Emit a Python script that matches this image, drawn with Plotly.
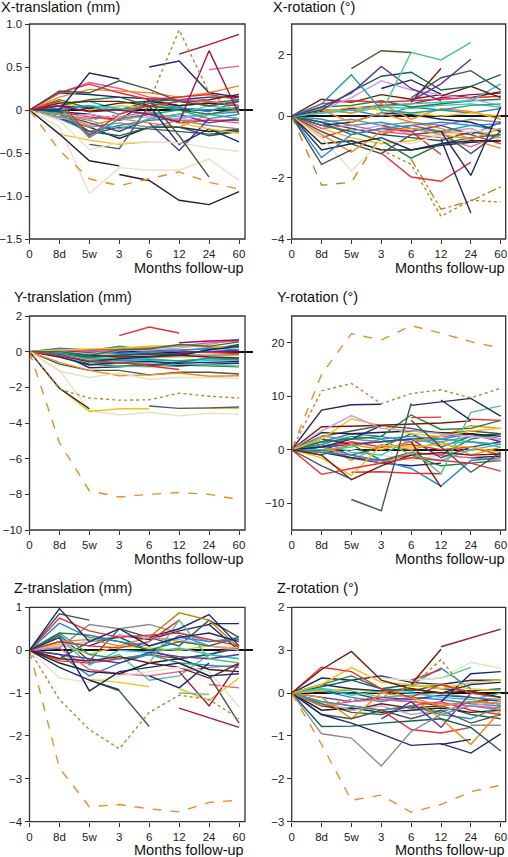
import plotly.graph_objects as go

# ---------------- categories ----------------
months = ["0", "8d", "5w", "3", "6", "12", "24", "60"]

palette = {
    "N": "#1f2a66", "G": "#41584c", "R": "#ec2d35", "O": "#f28a1a",
    "P": "#f2568f", "C": "#a3124b", "B": "#e6e1c2", "Y": "#f2c112",
    "T": "#17a2a0", "LG": "#4ec48b", "DG": "#1d7f3c", "PU": "#5a33a6",
    "LV": "#c4a0e2", "BL": "#2a82dc", "BR": "#761a08", "DT": "#145e5c",
    "CY": "#26c6d6", "GR": "#8c8c8c", "K": "#222222", "GD": "#b8862a",
    "OD": "#ee8a22", "SL": "#4e5d6a", "OL": "#4b5a28", "YB": "#b8860b",
}

# ---------------- X-translation (mm) ----------------
xt_values = [
    [0, -0.08, -0.12, -0.05, 0.1, 0.93, 0.2, -0.05],
    [0, -0.47, -0.8, -0.88, -0.8, -0.72, -0.84, -0.92],
    [None, None, None, None, None, 0.65, 0.76, 0.88],
    [0, 0.05, -0.02, 0.0, -0.05, -0.14, 0.69, -0.05],
    [None, None, None, None, None, None, 0.47, 0.51],
    [None, None, None, None, 0.5, 0.57, 0.2, 0.15],
    [0, 0.22, 0.2, 0.34, 0.24, 0.1, 0.05, 0.1],
    [None, None, None, None, 0.12, -0.3, -0.78, None],
    [0, -0.28, -0.59, -0.65, None, None, None, None],
    [None, None, None, -0.75, -0.82, -1.05, -1.1, -0.95],
    [0, -0.2, -0.97, -0.67, -0.7, -0.7, -0.57, -0.82],
    [0, -0.12, -0.46, -0.38, -0.37, -0.38, -0.44, -0.48],
    [None, -0.28, -0.35, -0.4, -0.37, None, None, None],
    [None, None, None, None, None, -0.15, -0.22, -0.27],
    [None, None, -0.4, -0.45, 0.05, None, None, None],
    [0, 0.0, 0.43, 0.36, None, None, None, None],
    [None, None, None, None, 0.05, -0.4, -0.22, -0.37],
    [None, None, None, None, -0.15, -0.47, -0.1, None],
    [0, 0.1, -0.3, -0.05, 0.05, 0.1, 0.05, 0.1],
    [0, 0.2, 0.3, 0.2, 0.12, 0.15, 0.18, 0.12],
    [0, 0.15, 0.24, 0.22, 0.2, 0.15, 0.2, 0.28],
    [0, 0.2, 0.32, 0.25, 0.15, 0.12, 0.1, 0.05],
    [0, 0.2, 0.18, 0.15, 0.13, 0.12, 0.15, 0.15],
    [0, 0.08, 0.1, 0.1, 0.05, 0.1, 0.12, 0.18],
    [0, 0.05, 0.12, 0.15, 0.05, 0.0, -0.05, 0.02],
    [0, 0.05, -0.32, -0.1, -0.05, 0.0, -0.1, -0.05],
    [0, -0.05, -0.12, -0.22, -0.1, -0.05, 0.05, 0.0],
    [0, 0.02, 0.05, -0.05, 0.08, 0.03, -0.02, 0.1],
    [0, -0.1, -0.05, -0.1, -0.08, -0.1, -0.05, 0.0],
    [0, 0.0, 0.05, 0.02, -0.05, -0.08, -0.05, -0.1],
    [0, -0.05, -0.15, -0.25, -0.1, -0.05, -0.15, -0.1],
    [0, -0.08, -0.2, -0.15, -0.2, -0.12, -0.18, -0.22],
    [0, -0.02, -0.25, -0.3, -0.2, -0.2, -0.3, -0.25],
    [0, -0.05, -0.18, -0.1, -0.15, -0.2, -0.05, -0.1],
    [0, -0.02, -0.08, -0.12, -0.05, -0.15, -0.12, -0.12],
    [0, 0.05, 0.02, 0.08, 0.1, 0.05, 0.08, 0.05],
    [0, -0.05, -0.28, -0.2, -0.22, -0.25, -0.28, -0.25],
    [0, 0.1, 0.0, 0.05, 0.02, 0.05, 0.1, 0.05],
    [0, -0.05, -0.1, -0.08, -0.02, -0.12, -0.12, -0.15],
    [0, -0.1, -0.25, -0.18, -0.12, -0.1, -0.05, -0.02],
    [0, 0.12, 0.02, 0.0, 0.1, 0.12, 0.08, 0.12],
    [0, -0.02, -0.05, -0.12, 0.12, 0.05, 0.1, 0.05],
    [0, 0.08, 0.1, 0.0, 0.05, 0.02, 0.0, 0.03],
    [0, -0.1, -0.2, -0.33, -0.2, -0.2, -0.25, -0.23],
]
xt_styles = ("GD.dot OD.dash C C P N G G K K B B Y Y SL N N PU R R O P N BR DG T "
             "LG BL LV CY PU GR DT O R K G Y P BL DG N T K").split()

# ---------------- X-rotation (°) ----------------
xr_values = [
    [None, None, 1.55, 2.13, 2.07, None, None, None],
    [None, None, None, 0.1, 2.08, 1.83, 2.4, None],
    [0, 0.3, 0.75, 1.62, 0.9, 0.5, None, None],
    [None, None, None, None, 0.5, 1.05, 1.85, None],
    [0, 0.4, 1.35, 0.2, 0.1, 0.2, 0.35, 0.4],
    [0, 0.2, 0.8, 1.3, 1.43, 0.85, 0.97, 1.35],
    [None, None, None, None, 0.6, 1.25, 1.48, 0.85],
    [None, None, None, 0.9, 1.18, 0.72, None, None],
    [None, None, None, None, 0.45, 1.55, None, None],
    [None, None, None, None, None, 0.65, 0.97, 0.6],
    [0, 0.1, 0.2, 0.3, 0.4, 0.45, 0.5, 1.05],
    [0, 0.2, 0.6, 1.15, 0.85, 0.7, 0.55, 0.35],
    [None, None, None, None, None, -0.75, -3.15, None],
    [None, None, None, None, None, -0.5, -1.93, 0.3],
    [None, None, None, -1.2, -1.98, -2.12, -1.5, None],
    [0, -2.25, -2.15, -0.6, None, None, None, None],
    [None, None, None, -1.1, -1.57, -3.26, -2.74, -2.8],
    [None, None, None, None, -1.4, -3.03, -2.76, -2.3],
    [0, -1.57, -1.1, None, None, None, None, None],
    [0, -1.35, -0.6, -0.4, -0.3, -0.2, -0.3, -0.25],
    [0, -1.1, -0.9, -0.7, -1.1, -0.9, -0.8, -0.8],
    [0, -0.6, -1.17, -0.5, -0.4, -0.6, -0.75, -0.4],
    [0, -0.7, -1.78, -0.8, -0.9, -0.6, -0.5, -0.4],
    [0, -0.5, -0.9, -1.22, -0.6, -0.5, -1.22, -0.5],
    [0, -0.3, -0.5, -0.8, -1.37, -0.9, -0.7, -0.6],
    [0, 0.2, -0.2, 0.1, -0.2, -0.4, -0.75, -1.05],
    [None, None, None, -0.3, -0.5, -1.25, None, None],
    [0, 0.4, 0.5, 0.45, 0.5, 0.55, 0.6, 0.65],
    [0, 0.55, 0.45, 0.7, 0.55, 0.7, 0.6, 0.8],
    [0, 0.3, 0.35, 0.5, 0.3, 0.4, 0.5, 0.55],
    [0, 0.1, 0.3, 0.2, 0.1, 0.0, 0.1, 0.0],
    [0, 0.25, 0.1, 0.4, -0.1, 0.25, 0.15, -0.1],
    [0, -0.4, -0.3, -0.5, -0.6, -0.7, -1.0, -0.6],
    [0, 0.2, 0.1, 0.3, 0.25, 0.35, 0.4, 0.3],
    [0, -0.9, -0.8, -1.1, -1.1, -0.95, -0.85, -0.8],
    [0, -0.3, -0.2, 0.1, 0.05, -0.1, -0.2, -0.5],
    [0, -0.1, -0.3, -0.2, -0.4, -0.5, -0.3, -0.45],
    [0, -0.2, -0.6, -0.4, -0.5, -0.3, -0.6, -0.2],
    [0, -0.3, -0.5, -0.3, -0.6, -0.5, -0.4, -0.7],
    [0, -0.2, -0.1, -0.3, -0.2, -0.3, -0.1, -0.2],
    [0, 0.1, 0.2, 0.0, 0.3, 0.2, 0.1, 0.25],
    [0, 0.15, 0.25, 0.35, 0.4, 0.6, 0.7, 0.75],
    [0, -0.2, -0.4, -0.6, -0.7, -0.8, -0.5, -0.7],
    [0, -0.4, -0.7, -0.9, -0.8, -0.6, -0.4, -0.8],
    [0, -0.7, -0.4, -0.6, -0.3, -0.5, -0.6, -0.9],
]
xr_styles = ("OL LG PU PU T DT G N BR BR CY LV N N R GD.dash GD.dot GD.dashdot G BL N O B G DG O R R BR DG "
             "Y O P LG K N T PU LV GR BL C DT Y R").split()

# ---------------- Y-translation (mm) ----------------
yt_values = [
    [0, -5.1, -7.8, -8.15, -8.0, -7.9, -8.0, -8.3],
    [0, -2.1, -2.6, -2.72, -2.7, -2.33, -2.5, -2.6],
    [0, -2.05, -3.2, None, None, None, None, None],
    [None, None, None, None, -3.05, -3.18, -3.15, -3.1],
    [None, -2.05, -3.35, -3.2, -3.2, None, None, None],
    [None, None, None, None, None, -3.18, -3.18, -3.18],
    [0, -1.05, -3.3, -3.55, -3.4, -3.6, -3.45, -3.5],
    [0, -1.1, -1.45, -1.2, -1.55, -1.45, -1.45, -1.5],
    [0, -0.6, -1.05, -1.35, -1.3, -1.2, -1.38, -1.35],
    [0, -0.7, -1.05, -1.05, -1.3, -1.15, -1.15, -1.25],
    [None, None, None, 0.9, 1.38, 1.05, None, None],
    [0, -0.2, -0.5, -0.6, -0.8, -1.0, None, None],
    [None, None, None, None, None, 0.5, 0.6, 0.65],
    [0, -0.3, -0.75, -0.6, -0.55, -0.65, -0.6, -0.55],
    [0, -0.2, -0.55, -0.4, -0.3, -0.2, 0.1, 0.3],
    [0, 0.0, -0.2, 0.1, 0.15, 0.4, 0.3, 0.55],
    [0, -0.1, -0.4, -0.5, -0.45, -0.5, -0.4, -0.45],
    [0, -0.3, -0.6, -0.8, -0.85, -0.7, -0.75, -0.8],
    [0, 0.1, 0.15, 0.2, 0.3, 0.35, 0.3, 0.2],
    [0, 0.1, 0.0, 0.1, 0.2, 0.3, 0.5, 0.6],
    [0, -0.1, -0.3, -0.2, -0.1, -0.2, 0.1, 0.4],
    [0, 0.0, -0.1, 0.05, 0.1, 0.2, 0.4, 0.7],
    [0, 0.2, 0.1, -0.1, 0.0, 0.05, 0.2, 0.1],
    [0, 0.15, 0.1, 0.15, 0.1, 0.0, -0.05, -0.1],
    [0, -0.15, -0.7, -0.8, -0.75, -0.6, -0.35, -0.4],
    [0, -0.05, -0.3, -0.45, -0.4, -0.55, -0.5, -0.45],
    [0, -0.05, -0.2, -0.3, -0.25, -0.2, -0.3, -0.35],
    [0, -0.1, -0.25, -0.2, -0.15, -0.1, 0.0, 0.05],
    [0, -0.05, -0.15, -0.1, -0.05, -0.15, -0.2, -0.15],
    [0, 0.05, 0.1, 0.2, 0.25, 0.35, 0.25, 0.3],
    [0, 0.05, -0.05, 0.0, -0.1, -0.05, 0.0, 0.05],
    [0, -0.1, -0.9, -0.85, -0.75, -0.8, -0.7, -0.65],
    [0, -0.2, -0.6, -0.65, -0.7, -0.75, -0.8, -0.85],
    [0, -0.1, -0.4, -0.3, -0.35, -0.3, -0.25, -0.2],
    [0, -0.05, 0.1, 0.2, -0.05, None, None, None],
    [0, 0.0, 0.05, 0.3, 0.1, 0.1, 0.15, 0.25],
]
yt_styles = ("OD.dash GD.dot K SL Y Y B B O G R R C N N DG T LG Y P DT LV BL R G CY BR PU GR O K N DG Y R T").split()

# ---------------- Y-rotation (°) ----------------
yr_values = [
    [0, 14.1, 21.7, 20.5, 23.2, 21.8, 20.2, 19.0],
    [0, 11.0, 12.4, 8.6, 10.5, 11.2, 9.7, 11.5],
    [0, 7.4, 8.4, 8.5, None, None, None, None],
    [None, None, None, None, 8.3, 8.9, 9.6, 6.3],
    [None, None, None, None, None, 9.3, 5.5, None],
    [None, None, -9.3, -11.4, 8.7, None, None, None],
    [None, None, None, None, 5.5, 0.5, -4.2, -0.5],
    [None, None, None, None, 0.0, -4.5, 7.0, 8.2],
    [None, None, None, None, 1.5, -7.0, None, None],
    [0, -3.0, -5.5, None, None, None, None, None],
    [0, -4.6, -3.5, -2.5, -1.5, -2.0, -2.5, -4.0],
    [0, -1.0, -5.6, -3.0, -1.0, -0.5, -1.0, -0.8],
    [0, -1.5, -4.8, 0.8, 0.5, 1.0, 0.5, -0.5],
    [None, None, -4.2, -4.1, -4.4, -4.5, None, None],
    [0, -0.5, -1.0, -2.0, -3.5, -6.8, -2.0, -1.5],
    [0, 3.5, 6.4, 4.0, 3.5, 3.0, 2.5, 2.0],
    [0, 4.3, 4.4, 4.6, 4.8, 5.0, 5.4, None],
    [0, 2.0, 5.8, 4.5, 3.0, 2.5, 3.5, 4.0],
    [None, None, None, None, 6.0, 6.1, None, None],
    [None, None, None, None, None, None, 5.7, 5.5],
    [0, 1.5, 2.0, 2.5, 6.5, 3.8, 4.0, 5.5],
    [0, 0.5, 2.0, 4.5, None, None, None, None],
    [0, 3.2, 3.0, 3.3, 3.5, 3.2, 3.0, 2.5],
    [0, 1.0, 2.5, 2.0, 2.5, 2.0, 1.5, 1.0],
    [0, -0.5, 1.0, 0.0, 1.5, 2.5, 4.5, 4.0],
    [0, 0.5, 1.0, 1.5, 2.0, -1.5, 0.5, 1.5],
    [0, 1.5, -0.5, -1.0, 2.0, 1.0, 1.5, 0.5],
    [0, 2.5, 2.0, 1.5, 2.0, 1.5, 2.5, 2.0],
    [0, 0.0, 0.5, 2.0, -1.0, -2.0, 0.0, 1.0],
    [0, 0.5, -1.0, -2.5, -0.5, -1.0, -1.5, -2.0],
    [0, -0.5, -1.5, -2.5, -3.0, -2.5, None, None],
    [0, 1.0, -1.0, 0.5, 3.0, 0.5, 2.5, 3.0],
    [0, 2.0, 1.0, 1.5, 2.0, 2.5, 3.0, 1.5],
    [0, 1.0, -2.0, 1.0, 0.0, 1.5, -1.0, 0.5],
    [0, -1.0, 1.0, -2.0, -0.5, -1.0, 2.0, 3.0],
    [None, None, None, None, None, None, -1.5, -1.2],
    [0, 0.5, 1.5, 0.5, 1.0, 0.0, 0.5, -1.0],
    [0, 0.5, 0.0, -1.0, -2.0, -1.0, 0.0, -0.5],
    [0, 1.5, 3.0, 2.5, 1.5, 2.0, 3.0, 2.0],
    [0, 2.5, 3.5, 4.5, 4.0, 3.0, 3.5, 3.0],
    [0, 0.0, -1.5, -2.0, -1.0, -3.0, -2.5, -2.0],
]
yr_styles = ("OD.dash GD.dot N N N G G LG BR G R BR Y R BL LV BR Y R R DG N K T O PU CY GR LG P N DT C O DG K R B BL G DG").split()

# ---------------- Z-translation (mm) ----------------
zt_values = [
    [0, -2.75, -3.65, -3.6, -3.7, -3.77, -3.55, -3.5],
    [0, -1.15, -1.85, -2.3, -1.45, -1.05, -1.15, -1.6],
    [0, 0.97, 0.2, 0.5, 0.1, 0.3, 0.4, 0.2],
    [0, 0.85, 0.7, None, None, None, None, None],
    [0, 0.75, 0.45, 0.3, 0.35, 0.4, 0.25, 0.1],
    [0, 0.63, 0.3, 0.2, 0.1, 0.3, 0.2, 0.25],
    [0, 0.3, -0.95, -0.5, -0.4, -0.3, -0.6, -0.55],
    [0, -0.4, -0.7, -0.92, None, None, None, None],
    [None, None, -0.7, -0.95, -1.78, None, None, None],
    [None, None, -0.68, -0.75, -0.85, None, None, None],
    [0, -0.65, -0.75, -0.6, -0.5, -0.4, -0.5, -1.32],
    [None, None, None, None, 0.3, 0.87, 0.7, 0.05],
    [None, None, None, None, 0.3, 0.5, 0.83, 0.1],
    [None, None, None, None, None, None, 0.62, 0.62],
    [None, None, None, None, -0.3, 0.7, -0.2, -0.3],
    [None, None, None, None, None, -1.0, -1.03, None],
    [None, None, None, None, None, -0.5, -1.3, -0.3],
    [None, None, None, None, None, -1.35, -1.58, -1.8],
    [None, None, None, None, None, -0.9, -1.17, -0.65],
    [None, None, None, None, None, -0.3, -0.6, -1.7],
    [None, None, None, None, None, None, -0.8, -0.88],
    [None, None, None, None, -0.6, -0.88, -0.3, None],
    [0, -0.2, -0.25, -0.15, -0.3, -0.4, -0.65, -0.3],
    [0, 0.2, 0.1, 0.05, 0.2, 0.7, None, None],
    [0, 0.4, 0.35, 0.2, 0.0, 0.2, 0.1, 0.3],
    [0, 0.4, -0.1, -0.2, -0.1, -0.3, -0.35, -0.4],
    [0, 0.1, 0.2, 0.35, 0.3, 0.25, 0.1, 0.0],
    [0, 0.05, 0.6, 0.5, 0.6, 0.4, 0.2, 0.3],
    [0, 0.2, 0.25, 0.1, 0.3, 0.2, 0.1, 0.3],
    [0, -0.1, -0.2, -0.3, -0.05, -0.15, -0.2, -0.1],
    [0, -0.3, -0.5, -0.55, -0.3, -0.2, -0.45, -0.5],
    [0, 0.3, -0.35, 0.0, -0.05, 0.05, -0.1, -0.2],
    [0, 0.05, -0.45, -0.55, -0.6, -0.5, -0.4, -0.35],
    [0, 0.15, -0.1, 0.1, 0.05, 0.0, 0.1, 0.05],
    [0, -0.2, 0.2, 0.3, 0.0, -0.2, -0.1, 0.05],
    [0, -0.1, -0.6, -0.3, -0.1, 0.35, 0.1, 0.0],
    [0, 0.35, -0.25, 0.5, 0.3, 0.1, 0.7, 0.3],
    [0, -0.25, -0.3, -0.2, -0.1, -0.2, -0.1, 0.1],
    [0, -0.1, -0.3, -0.1, -0.7, -0.6, -0.1, -0.2],
    [0, 0.2, 0.1, 0.35, 0.25, 0.45, 0.6, 0.0],
]
zt_styles = ("OD.dash GD.dot N G R BL N N G Y B YB N N LG LG C C Y G P N BR R DG T LV GR O PU K CY P Y DT BL G R LG N").split()

# ---------------- Z-rotation (°) ----------------
zr_values = [
    [0, -1.2, -2.5, -2.38, -2.78, -2.6, -2.3, -2.15],
    [0, -0.3, -0.15, -0.1, 0.15, 0.78, -0.1, -0.3],
    [None, None, None, None, None, 1.08, 1.28, 1.49],
    [0, 0.55, 0.97, 0.3, 0.1, 0.0, 0.05, -0.1],
    [None, None, None, None, 0.2, 1.02, None, None],
    [0, 0.6, 0.5, 0.1, -0.1, 0.2, 0.0, -0.1],
    [None, None, None, None, 0.3, 0.55, None, None],
    [0, 0.2, 0.6, 0.25, 0.2, 0.1, 0.25, 0.3],
    [None, None, None, 0.35, 0.3, 0.35, 0.72, 0.58],
    [None, None, None, None, 0.3, 0.35, 0.6, None],
    [None, None, None, None, 0.2, 0.58, 0.1, None],
    [None, None, None, None, None, -0.2, 0.45, 0.5],
    [0, -0.95, -1.05, -1.7, -0.9, -0.5, -0.3, -0.4],
    [0, -0.5, -0.7, -0.95, -1.22, -1.18, -1.4, -0.95],
    [None, None, None, None, None, -1.2, -1.08, None],
    [0, -0.78, -0.77, -0.7, -0.65, -0.6, -0.8, -1.35],
    [None, None, None, None, -0.1, -0.6, -1.2, -0.4],
    [None, None, None, -0.4, -0.85, -0.93, -0.8, None],
    [None, None, None, -0.6, -0.2, -0.8, 0.0, None],
    [None, None, None, None, None, None, -0.75, -0.75],
    [0, 0.2, 0.4, 0.1, 0.05, 0.2, 0.0, -0.1],
    [0, -0.5, -0.6, -0.4, -0.6, -0.4, -0.7, -0.5],
    [0, -0.2, -0.3, -0.4, -0.3, -0.5, -0.6, -0.3],
    [0, 0.2, 0.1, 0.05, 0.1, 0.0, 0.2, 0.25],
    [0, -0.1, -0.6, 0.0, -0.1, -0.3, -0.2, -0.25],
    [0, -0.2, -0.4, -0.3, -0.5, -0.4, -0.3, -0.2],
    [0, 0.1, -0.05, 0.05, 0.0, -0.1, -0.15, 0.0],
    [0, -0.3, -0.2, -0.15, -0.2, -0.25, -0.3, -0.35],
    [0, -0.4, -0.35, -0.45, -0.4, -0.35, -0.45, -0.4],
    [0, -0.1, -0.2, -0.1, -0.15, -0.05, -0.1, -0.2],
    [0, 0.05, 0.1, 0.0, 0.15, 0.2, 0.1, 0.05],
    [0, 0.1, 0.05, -0.1, -0.05, 0.0, -0.1, -0.15],
    [0, -0.3, -0.4, -0.25, -0.35, -0.3, -0.2, -0.15],
    [0, -0.2, -0.3, -0.4, -0.3, -0.2, -0.4, -0.5],
    [0, 0.15, 0.3, 0.1, 0.2, 0.1, 0.05, 0.1],
    [0, 0.05, -0.1, -0.2, -0.1, -0.15, -0.25, -0.3],
    [0, 0.35, 0.3, 0.4, 0.25, 0.2, 0.3, 0.3],
    [0, 0.05, 0.0, -0.15, -0.2, -0.3, -0.5, -0.6],
    [0, -0.25, -0.45, -0.5, -0.3, -0.45, -0.2, -0.25],
]
zr_styles = ("OD.dash GD.dot C BR BR R R Y B LG BL N GR N N DT O R PU GR DG G T N O LV CY P K PU Y LG BR R DT BL N G DG").split()

# ---------------- axis tick labels ----------------
xt_ticks = [1.0, 0.5, 0, -0.5, -1.0, -1.5]
xt_labels = ["1.0", "0.5", "0", "\u22120.5", "\u22121.0", "\u22121.5"]
xr_ticks = [2, 0, -2, -4]
xr_labels = ["2", "0", "\u22122", "\u22124"]
yt_ticks = [2, 0, -2, -4, -6, -8, -10]
yt_labels = ["2", "0", "\u22122", "\u22124", "\u22126", "\u22128", "\u221210"]
yr_ticks = [20, 10, 0, -10]
yr_labels = ["20", "10", "0", "\u221210"]
zt_ticks = [1, 0, -1, -2, -3, -4]
zt_labels = ["1", "0", "\u22121", "\u22122", "\u22123", "\u22124"]
zr_ticks = [2, 1, 0, -1, -2, -3]
zr_labels = ["2", "3", "0", "\u22121", "\u22122", "\u22123"]

titles = ["X-translation (mm)", "X-rotation (\u00b0)", "Y-translation (mm)",
          "Y-rotation (\u00b0)", "Z-translation (mm)", "Z-rotation (\u00b0)"]
x_title = "Months follow-up"

# ---------------- layout geometry (figure pixels) ----------------
W, H = 508, 857
ML, MR, MT, MB = 16, 0, 22, 22          # margins big enough that no text pushes them
PW, PH = W - ML - MR, H - MT - MB


def px(x):
    return (x - ML) / PW


def py(y):
    return 1 - (y - MT) / PH


FONT = "Liberation Sans, Arial, Helvetica, sans-serif"
cols = [
    dict(x0=29.5, step=29.93, right=245.0, end=252.5),
    dict(x0=291.7, step=29.86, right=505.7, end=508.0),
]
rows = [
    dict(top=24.0, bottom=239.0, title=7.5, xt=267.5),
    dict(top=316.0, bottom=530.0, title=297.0, xt=558.5),
    dict(top=607.3, bottom=821.7, title=588.0, xt=850.0),
]
title_x = [[0.0, 272.3], [13.0, 275.7], [13.0, 275.7]]

panels = [
    (xt_values, xt_styles, [-1.5, 1.0], xt_ticks, xt_labels),
    (xr_values, xr_styles, [-4, 3], xr_ticks, xr_labels),
    (yt_values, yt_styles, [-10, 2], yt_ticks, yt_labels),
    (yr_values, yr_styles, [-15, 25], yr_ticks, yr_labels),
    (zt_values, zt_styles, [-4, 1], zt_ticks, zt_labels),
    (zr_values, zr_styles, [-3, 2], zr_ticks, zr_labels),
]

fig = go.Figure()
shapes, annotations = [], []

for i, (vals, styles, yrange, tv, tt) in enumerate(panels):
    assert len(vals) == len(styles), (i, len(vals), len(styles))
    r, c = divmod(i, 2)
    col, row = cols[c], rows[r]
    n = i + 1
    xa = "x" if n == 1 else f"x{n}"
    ya = "y" if n == 1 else f"y{n}"
    for v, s in reversed(list(zip(vals, styles))):
        parts = s.split(".")
        fig.add_trace(go.Scatter(
            x=months, y=v, mode="lines", xaxis=xa, yaxis=ya,
            line=dict(color=palette[parts[0]], width=1.4,
                      dash=parts[1] if len(parts) > 1 else "solid"),
            connectgaps=False, showlegend=False, hoverinfo="skip"))
    xrange_end = (col["end"] - col["x0"]) / col["step"]
    xdom = [px(col["x0"]), min(1.0, px(col["end"]))]
    ydom = [py(row["bottom"]), py(row["top"])]
    fig.layout[f"xaxis{'' if n == 1 else n}"] = dict(
        domain=xdom, anchor=ya, type="category", categoryorder="array",
        categoryarray=months, range=[0, xrange_end], showgrid=False,
        zeroline=False, showline=False, ticks="outside", ticklen=4,
        tickwidth=1, tickcolor="#333", fixedrange=True, automargin=False,
        tickfont=dict(family=FONT, size=11.5, color="#222"))
    fig.layout[f"yaxis{'' if n == 1 else n}"] = dict(
        domain=ydom, anchor=xa, range=yrange, showgrid=False,
        zeroline=True, zerolinecolor="#111", zerolinewidth=1.5,
        showline=False, ticks="outside", ticklen=4, tickwidth=1,
        tickcolor="#333", tickvals=tv, ticktext=tt, fixedrange=True,
        automargin=False,
        tickfont=dict(family=FONT, size=11.5, color="#222"))
    shapes.append(dict(type="rect", xref="paper", yref="paper",
                       x0=px(col["x0"]), x1=px(col["right"]),
                       y0=ydom[0], y1=ydom[1], layer="above",
                       line=dict(color="#333", width=1.3)))
    annotations.append(dict(text=titles[i], xref="paper", yref="paper",
                            x=px(title_x[r][c]), y=py(row["title"]),
                            xanchor="left", yanchor="middle", showarrow=False,
                            borderpad=0,
                            font=dict(family=FONT, size=14.5, color="#111")))
    annotations.append(dict(text=x_title, xref="paper", yref="paper",
                            x=px(col["right"]), y=py(row["xt"]),
                            xanchor="right", yanchor="middle", showarrow=False,
                            borderpad=0,
                            font=dict(family=FONT, size=14.5, color="#111")))

fig.update_layout(width=W, height=H,
                  margin=dict(l=ML, r=MR, t=MT, b=MB, pad=0, autoexpand=False),
                  paper_bgcolor="white", plot_bgcolor="white",
                  shapes=shapes, annotations=annotations, showlegend=False)

fig.write_html("out.html", config={"displayModeBar": False},
               post_script="document.body.style.margin='0';document.body.style.padding='0';")
